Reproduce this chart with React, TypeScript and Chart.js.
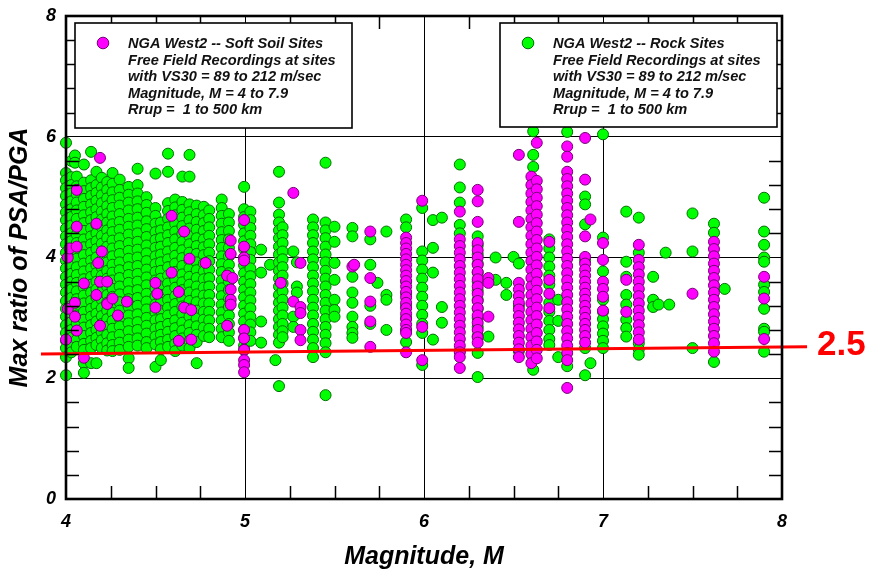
import React, { useEffect, useRef } from "react";
import { Chart, registerables } from "chart.js";

Chart.register(...registerables);

const FONT = '"Liberation Sans", Arial, Helvetica, sans-serif';

const X_MIN = 4;
const X_MAX = 8;
const Y_MIN = 0;
const Y_MAX = 8;
const X_STEP = 1;
const Y_STEP = 2;
const X_MINOR = 0.25;
const Y_MINOR = 0.4;

// Rock sites (green): [magnitude, PSA/PGA ratios]
const rockColumns: [number, number[]][] = [
  [4.0, [5.9, 5.4, 5.28, 5.15, 5.02, 4.88, 4.75, 4.62, 4.48, 4.35, 4.22, 4.08, 3.95, 3.82, 3.68, 3.55, 3.42, 3.28, 3.15, 3.02, 2.88, 2.75, 2.62, 2.5, 2.35, 2.05]],
  [4.03, [5.6, 5.33, 5.2, 5.06, 4.93, 4.8, 4.67, 4.53, 4.4, 4.27, 4.13, 4.0, 3.87, 3.73, 3.6, 3.47, 3.33, 3.2, 3.07, 2.93, 2.8, 2.67, 2.54, 2.43]],
  [4.05, [5.69, 5.57]],
  [4.06, [5.34, 5.18, 5.05, 4.91, 4.78, 4.64, 4.51, 4.38, 4.24, 4.11, 3.98, 3.84, 3.71, 3.58, 3.44, 3.31, 3.18, 3.04, 2.91, 2.78, 2.64, 2.52]],
  [4.1, [5.54, 5.24, 5.1, 4.97, 4.84, 4.7, 4.57, 4.44, 4.3, 4.17, 4.04, 3.9, 3.77, 3.64, 3.5, 3.37, 3.24, 3.1, 2.97, 2.84, 2.7, 2.57, 2.47, 2.25, 2.09]],
  [4.14, [5.75, 5.28, 5.15, 5.02, 4.88, 4.75, 4.62, 4.48, 4.35, 4.22, 4.08, 3.95, 3.82, 3.68, 3.55, 3.42, 3.28, 3.15, 3.02, 2.88, 2.75, 2.62, 2.5, 2.25]],
  [4.17, [5.42, 5.2, 5.07, 4.94, 4.8, 4.67, 4.54, 4.4, 4.27, 4.14, 4.0, 3.87, 3.74, 3.6, 3.47, 3.34, 3.2, 3.07, 2.94, 2.8, 2.67, 2.55, 2.25]],
  [4.2, [5.32, 5.16, 5.03, 4.9, 4.76, 4.63, 4.5, 4.36, 4.23, 4.1, 3.96, 3.83, 3.7, 3.56, 3.43, 3.3, 3.16, 3.03, 2.9, 2.76, 2.63, 2.5]],
  [4.23, [5.25, 5.12, 4.98, 4.85, 4.72, 4.58, 4.45, 4.32, 4.18, 4.05, 3.92, 3.78, 3.65, 3.52, 3.38, 3.25, 3.12, 2.98, 2.85, 2.72, 2.58, 2.46]],
  [4.26, [5.4, 5.22, 5.08, 4.95, 4.82, 4.68, 4.55, 4.42, 4.28, 4.15, 4.02, 3.88, 3.75, 3.62, 3.48, 3.35, 3.22, 3.08, 2.95, 2.82, 2.68, 2.55, 2.45]],
  [4.3, [5.29, 5.12, 4.99, 4.86, 4.72, 4.59, 4.46, 4.32, 4.19, 4.06, 3.92, 3.79, 3.66, 3.52, 3.39, 3.26, 3.12, 2.99, 2.86, 2.72, 2.59, 2.47]],
  [4.35, [5.17, 5.04, 4.91, 4.78, 4.64, 4.51, 4.38, 4.24, 4.11, 3.98, 3.84, 3.71, 3.58, 3.44, 3.31, 3.18, 3.04, 2.91, 2.78, 2.64, 2.52, 2.33, 2.17]],
  [4.4, [5.47, 5.2, 5.06, 4.93, 4.8, 4.66, 4.53, 4.4, 4.26, 4.13, 4.0, 3.86, 3.73, 3.6, 3.46, 3.33, 3.2, 3.06, 2.93, 2.8, 2.66, 2.54]],
  [4.45, [5.0, 4.87, 4.74, 4.6, 4.47, 4.34, 4.2, 4.07, 3.94, 3.8, 3.67, 3.54, 3.4, 3.27, 3.14, 3.0, 2.87, 2.74, 2.6, 2.5]],
  [4.5, [5.39, 4.82, 4.69, 4.56, 4.42, 4.29, 4.16, 4.02, 3.89, 3.76, 3.62, 3.49, 3.36, 3.22, 3.09, 2.96, 2.82, 2.69, 2.56, 2.19]],
  [4.53, [4.58, 4.45, 4.32, 4.18, 4.05, 3.92, 3.78, 3.65, 3.52, 3.38, 3.25, 3.12, 2.98, 2.85, 2.72, 2.6, 2.48, 2.3]],
  [4.57, [5.72, 5.42, 4.9, 4.77, 4.64, 4.5, 4.37, 4.24, 4.1, 3.97, 3.84, 3.7, 3.57, 3.44, 3.3, 3.17, 3.04, 2.9, 2.77, 2.64, 2.52]],
  [4.61, [4.96, 4.83, 4.7, 4.56, 4.43, 4.3, 4.16, 4.03, 3.9, 3.76, 3.63, 3.5, 3.36, 3.23, 3.1, 2.96, 2.83, 2.7, 2.57, 2.45]],
  [4.65, [5.34, 4.92, 4.79, 4.66, 4.52, 4.39, 4.26, 4.12, 3.99, 3.86, 3.72, 3.59, 3.46, 3.32, 3.19, 3.06, 2.92, 2.79, 2.66, 2.54]],
  [4.69, [5.7, 5.34, 4.88, 4.75, 4.62, 4.48, 4.35, 4.22, 4.08, 3.95, 3.82, 3.68, 3.55, 3.42, 3.28, 3.15, 3.02, 2.88, 2.75, 2.62, 2.5]],
  [4.73, [4.86, 4.72, 4.59, 4.46, 4.32, 4.19, 4.06, 3.92, 3.79, 3.66, 3.52, 3.39, 3.26, 3.12, 2.99, 2.86, 2.72, 2.6, 2.25]],
  [4.77, [4.84, 4.7, 4.57, 4.44, 4.3, 4.17, 4.04, 3.9, 3.77, 3.64, 3.5, 3.37, 3.24, 3.1, 2.97, 2.84, 2.7]],
  [4.8, [4.78, 4.64, 4.5, 4.36, 4.22, 4.08, 3.94, 3.8, 3.66, 3.52, 3.38, 3.24, 3.1, 2.96, 2.82, 2.68]],
  [4.87, [4.96, 4.82, 4.69, 4.56, 4.42, 4.29, 4.16, 4.02, 3.89, 3.76, 3.62, 3.49, 3.36, 3.22, 3.09, 2.96, 2.82, 2.68]],
  [4.91, [4.72, 4.58, 4.44, 4.3, 4.16, 4.02, 3.88, 3.74, 3.6, 3.46, 3.32, 3.18, 3.04, 2.9, 2.76, 2.62]],
  [4.995, [5.17, 4.8, 4.67, 4.54, 4.4, 4.27, 4.14, 4.0, 3.87, 3.74, 3.6, 3.47, 3.34, 3.2, 3.07, 2.94, 2.8, 2.67, 2.54, 2.47]],
  [5.03, [4.76, 4.62, 4.49, 4.36, 4.22, 4.09, 3.96, 3.82, 3.69, 3.56, 3.42, 3.29, 3.16, 3.02, 2.89, 2.76, 2.62]],
  [5.09, [4.13, 3.75, 2.94, 2.59]],
  [5.14, [3.88]],
  [5.17, [2.3]],
  [5.19, [5.42, 4.91, 4.71, 4.58, 4.45, 4.32, 4.18, 4.05, 3.92, 3.78, 3.65, 3.52, 3.38, 3.25, 3.12, 2.98, 2.85, 2.72, 2.59, 1.87]],
  [5.21, [4.5, 4.37, 4.24, 4.1, 3.97, 3.84, 3.7, 3.57, 3.44, 3.3, 3.17, 3.04, 2.9, 2.78, 2.68]],
  [5.27, [4.1, 3.02, 2.85]],
  [5.29, [3.92, 3.52, 3.42]],
  [5.38, [4.63, 4.5, 4.37, 4.24, 4.1, 3.97, 3.84, 3.7, 3.57, 3.44, 3.3, 3.17, 3.04, 2.9, 2.77, 2.64, 2.5, 2.35]],
  [5.45, [5.57, 4.58, 4.45, 4.32, 4.18, 4.05, 3.92, 3.78, 3.65, 3.52, 3.38, 3.25, 3.12, 2.98, 2.85, 2.72, 2.58, 2.43, 1.72]],
  [5.5, [4.51, 4.26, 3.91, 3.63, 3.3, 3.13, 3.02]],
  [5.6, [4.49, 4.35, 3.68, 3.42, 3.25, 3.02, 2.85, 2.75, 2.67]],
  [5.7, [4.3, 3.88, 3.2, 2.9]],
  [5.74, [3.58]],
  [5.79, [4.43, 3.38, 3.3, 2.8]],
  [5.9, [4.63, 4.5, 3.6, 3.4, 3.2, 3.0, 2.8, 2.6]],
  [5.99, [4.82, 4.1, 3.95, 3.8, 3.65, 3.5, 3.35, 3.2, 3.05, 2.9, 2.75, 2.22]],
  [6.05, [4.62, 4.16, 3.75, 2.64]],
  [6.1, [4.66, 3.18, 2.92]],
  [6.2, [5.54, 5.16, 4.91, 4.54, 4.4, 2.45]],
  [6.3, [4.35, 4.2, 4.05, 3.9, 3.75, 3.6, 3.45, 3.3, 3.15, 3.0, 2.85, 2.7, 2.42, 2.02]],
  [6.36, [2.69]],
  [6.4, [4.0, 3.63]],
  [6.46, [3.58, 3.38]],
  [6.5, [4.01]],
  [6.53, [3.9, 3.2, 2.45]],
  [6.61, [6.09, 5.7, 5.5, 4.5, 3.5, 2.35, 2.14]],
  [6.7, [4.3, 4.15, 4.0, 3.85, 3.7, 3.55, 3.25, 3.1, 2.95, 2.8, 2.65, 2.55]],
  [6.75, [3.3, 2.95, 2.35]],
  [6.8, [6.08, 2.2]],
  [6.9, [5.01, 4.88, 4.55, 3.95, 2.5, 2.05]],
  [6.93, [2.25]],
  [7.0, [6.04, 4.33, 3.77, 3.3, 3.1, 2.98, 2.86, 2.74, 2.62, 2.5]],
  [7.13, [4.76, 3.93, 3.68, 3.38, 3.22, 2.97, 2.83, 2.69]],
  [7.2, [4.66, 4.08, 2.58, 2.48, 2.39]],
  [7.28, [3.68, 3.3, 3.18]],
  [7.31, [3.22]],
  [7.35, [4.08]],
  [7.37, [3.22]],
  [7.5, [4.73, 4.1, 2.5]],
  [7.62, [4.56, 4.41, 2.27]],
  [7.68, [3.48]],
  [7.9, [4.99, 4.43, 4.21, 4.0, 3.93, 3.55, 3.43, 3.15, 2.82, 2.77, 2.44]],
];

// Soft soil sites (magenta): [magnitude, PSA/PGA ratios]
const softColumns: [number, number[]][] = [
  [4.0, [2.64]],
  [4.01, [4.0, 3.15]],
  [4.02, [4.15]],
  [4.05, [3.25, 3.02]],
  [4.06, [5.12, 4.51, 4.18, 2.79]],
  [4.1, [3.57, 2.34]],
  [4.17, [4.56, 3.38]],
  [4.18, [3.91]],
  [4.19, [5.65, 3.6, 2.87]],
  [4.2, [4.1]],
  [4.23, [3.6, 3.23]],
  [4.26, [3.32]],
  [4.29, [3.04]],
  [4.34, [3.27]],
  [4.5, [3.58, 3.17]],
  [4.51, [3.4]],
  [4.59, [4.69, 3.75]],
  [4.63, [3.43, 2.62]],
  [4.66, [4.43, 3.17]],
  [4.69, [3.98]],
  [4.7, [3.13, 2.64]],
  [4.78, [3.91]],
  [4.9, [3.7, 2.87]],
  [4.92, [4.28, 4.06, 3.47, 3.3, 3.22]],
  [4.93, [3.66]],
  [4.995, [4.62, 4.18, 4.0, 3.95, 2.8, 2.66, 2.47, 2.3, 2.22, 2.1]],
  [5.2, [3.58]],
  [5.27, [5.07, 3.27]],
  [5.31, [3.91, 3.18, 3.08, 2.8, 2.63]],
  [5.6, [3.85]],
  [5.61, [3.88]],
  [5.7, [4.43, 3.66, 3.27, 2.94, 2.52]],
  [5.9, [4.33, 4.24, 4.15, 4.06, 3.97, 3.88, 3.79, 3.7, 3.61, 3.52, 3.43, 3.34, 3.25, 3.16, 3.07, 2.98, 2.89, 2.8, 2.75, 2.43]],
  [5.99, [4.94, 2.85, 2.3]],
  [6.2, [4.76, 4.3, 4.19, 4.08, 3.97, 3.86, 3.75, 3.64, 3.53, 3.42, 3.31, 3.2, 3.09, 2.98, 2.87, 2.76, 2.65, 2.54, 2.43, 2.35, 2.17]],
  [6.3, [5.12, 4.93, 4.59, 4.24, 4.12, 4.0, 3.88, 3.76, 3.64, 3.52, 3.4, 3.28, 3.16, 3.04, 2.92, 2.8, 2.68, 2.59]],
  [6.36, [3.66, 3.58, 3.02]],
  [6.53, [5.7, 4.59, 3.58, 3.47, 3.36, 3.25, 3.14, 3.03, 2.92, 2.81, 2.7, 2.59, 2.48, 2.35]],
  [6.6, [5.34, 5.2, 5.06, 4.92, 4.78, 4.64, 4.5, 4.36, 4.22, 4.08, 3.94, 3.8, 3.66, 3.52, 3.38, 3.24, 3.1, 2.96, 2.82, 2.68, 2.54, 2.4, 2.25]],
  [6.63, [5.9, 5.27, 5.13, 4.99, 4.85, 4.71, 4.57, 4.43, 4.29, 4.15, 4.01, 3.87, 3.73, 3.59, 3.45, 3.31, 3.17, 3.03, 2.89, 2.75, 2.61, 2.47, 2.33]],
  [6.7, [4.26, 3.63, 3.4, 3.16]],
  [6.8, [5.84, 5.67, 5.42, 5.3, 5.18, 5.06, 4.94, 4.82, 4.7, 4.58, 4.46, 4.34, 4.22, 4.1, 3.98, 3.86, 3.74, 3.62, 3.5, 3.38, 3.26, 3.14, 3.02, 2.9, 2.78, 2.66, 2.54, 2.42, 2.3, 1.84]],
  [6.9, [5.98, 5.29, 4.35, 4.01, 3.9, 3.8, 3.7, 3.6, 3.5, 3.4, 3.3, 3.2, 3.1, 3.0, 2.9, 2.8, 2.7, 2.59]],
  [6.93, [4.63]],
  [7.0, [4.24, 3.96, 3.6, 3.48, 3.35, 3.12]],
  [7.13, [3.63, 3.1]],
  [7.2, [4.21, 3.96, 3.84, 3.72, 3.6, 3.48, 3.36, 3.24, 3.12, 3.0, 2.88, 2.76, 2.64]],
  [7.5, [3.4]],
  [7.62, [4.26, 4.14, 4.02, 3.9, 3.78, 3.66, 3.54, 3.42, 3.3, 3.18, 3.06, 2.94, 2.82, 2.7, 2.58, 2.44]],
  [7.9, [3.68, 3.32, 2.65]],
];

// Red reference line (2.5 ratio)
const limitLineX = [3.86, 8.14];
const limitLineY = [2.4, 2.52];
const limitLabel = "2.5";

const softLegendLines = [
  "NGA West2 -- Soft Soil Sites",
  "Free Field Recordings at sites",
  "with VS30 = 89 to 212 m/sec",
  "Magnitude, M = 4 to 7.9",
  "Rrup =  1 to 500 km",
];
const rockLegendLines = [
  "NGA West2 -- Rock Sites",
  "Free Field Recordings at sites",
  "with VS30 = 89 to 212 m/sec",
  "Magnitude, M = 4 to 7.9",
  "Rrup =  1 to 500 km",
];

const xTitle = "Magnitude, M";
const yTitle = "Max ratio of PSA/PGA";

const GREEN = "#00ff00";
const GREEN_EDGE = "#007000";
const MAGENTA = "#ff00ff";
const MAGENTA_EDGE = "#760076";

function toPoints(cols: [number, number[]][]) {
  const out: { x: number; y: number }[] = [];
  cols.forEach(([x, ys]) => ys.forEach((y) => out.push({ x, y })));
  return out;
}

function drawLegend(
  ctx: CanvasRenderingContext2D,
  left: number,
  top: number,
  w: number,
  h: number,
  fill: string,
  edge: string,
  lines: string[]
) {
  ctx.save();
  ctx.fillStyle = "#ffffff";
  ctx.fillRect(left, top, w, h);
  ctx.strokeStyle = "#000";
  ctx.lineWidth = 1.6;
  ctx.strokeRect(left, top, w, h);
  ctx.beginPath();
  ctx.arc(left + 28, top + 20, 5.8, 0, Math.PI * 2);
  ctx.fillStyle = fill;
  ctx.fill();
  ctx.lineWidth = 1;
  ctx.strokeStyle = edge;
  ctx.stroke();
  ctx.fillStyle = "#111";
  ctx.font = `italic bold 14.6px ${FONT}`;
  ctx.textAlign = "left";
  ctx.textBaseline = "alphabetic";
  lines.forEach((t, i) => ctx.fillText(t, left + 53, top + 25 + i * 16.6));
  ctx.restore();
}

const decorPlugin = {
  id: "decor",
  afterDraw(chart: any) {
    const { ctx, chartArea: a, scales } = chart;
    const xs = scales.x;
    const ys = scales.y;
    ctx.save();
    // minor ticks
    ctx.strokeStyle = "#000";
    ctx.lineWidth = 1.5;
    ctx.beginPath();
    const nx = Math.round((X_MAX - X_MIN) / X_MINOR);
    for (let i = 1; i < nx; i++) {
      const v = X_MIN + i * X_MINOR;
      if (Math.abs(v / X_STEP - Math.round(v / X_STEP)) < 1e-6) continue;
      const px = Math.round(xs.getPixelForValue(v)) + 0.5;
      ctx.moveTo(px, a.bottom);
      ctx.lineTo(px, a.bottom - 13);
      ctx.moveTo(px, a.top);
      ctx.lineTo(px, a.top + 13);
    }
    const ny = Math.round((Y_MAX - Y_MIN) / Y_MINOR);
    for (let i = 1; i < ny; i++) {
      const v = Y_MIN + i * Y_MINOR;
      if (Math.abs(v / Y_STEP - Math.round(v / Y_STEP)) < 1e-6) continue;
      const py = Math.round(ys.getPixelForValue(v)) + 0.5;
      ctx.moveTo(a.left, py);
      ctx.lineTo(a.left + 13, py);
      ctx.moveTo(a.right, py);
      ctx.lineTo(a.right - 13, py);
    }
    ctx.stroke();
    // frame
    ctx.lineWidth = 2.6;
    ctx.strokeRect(a.left, a.top, a.right - a.left, a.bottom - a.top);

    // legends
    drawLegend(ctx, a.left + 9, a.top + 7, 277, 105, MAGENTA, MAGENTA_EDGE, softLegendLines);
    drawLegend(ctx, a.left + 434, a.top + 7, 277, 104, GREEN, GREEN_EDGE, rockLegendLines);

    // limit label
    const lx = xs.getPixelForValue(limitLineX[1]) + 10;
    const ly = ys.getPixelForValue(limitLineY[1]) - 2;
    ctx.fillStyle = "#ff0000";
    ctx.font = `bold 35px ${FONT}`;
    ctx.textAlign = "left";
    ctx.textBaseline = "middle";
    ctx.fillText(limitLabel, lx, ly);

    // axis titles
    ctx.fillStyle = "#000";
    ctx.font = `italic bold 25px ${FONT}`;
    ctx.textAlign = "center";
    ctx.textBaseline = "middle";
    ctx.fillText(xTitle, (a.left + a.right) / 2, 557);
    ctx.translate(20, (a.top + a.bottom) / 2);
    ctx.rotate(-Math.PI / 2);
    ctx.fillText(yTitle, 0, 0);
    ctx.restore();
  },
};

export default function App() {
  const ref = useRef<HTMLCanvasElement | null>(null);

  useEffect(() => {
    document.body.style.margin = "0";
    const canvas = ref.current;
    if (!canvas) return;
    const tickFont = { family: FONT, size: 18, style: "italic" as const, weight: "bold" as const };
    const chart = new Chart(canvas, {
      type: "scatter",
      data: {
        datasets: [
          {
            type: "line" as any,
            label: "limit",
            data: limitLineX.map((x, i) => ({ x, y: limitLineY[i] })),
            borderColor: "#ff0000",
            borderWidth: 3,
            pointRadius: 0,
            showLine: true,
            fill: false,
            clip: false as any,
            order: 0,
          },
          {
            label: "Soft Soil Sites",
            data: toPoints(softColumns),
            backgroundColor: MAGENTA,
            borderColor: MAGENTA_EDGE,
            borderWidth: 1,
            pointRadius: 5.5,
            clip: false as any,
            order: 1,
          },
          {
            label: "Rock Sites",
            data: toPoints(rockColumns),
            backgroundColor: GREEN,
            borderColor: GREEN_EDGE,
            borderWidth: 1,
            pointRadius: 5.5,
            clip: false as any,
            order: 2,
          },
        ],
      },
      options: {
        responsive: false,
        animation: false,
        devicePixelRatio: 1,
        layout: { padding: { left: 0, top: 16, right: 92, bottom: 0 } },
        plugins: { legend: { display: false }, tooltip: { enabled: false } },
        scales: {
          x: {
            type: "linear",
            min: X_MIN,
            max: X_MAX,
            ticks: { stepSize: X_STEP, font: tickFont, color: "#000", padding: 12 },
            grid: { color: "#000", lineWidth: 1, drawTicks: false },
            border: { display: false },
            afterFit: (s: any) => {
              s.height = 77;
              s.paddingLeft = 0;
              s.paddingRight = 0;
            },
          },
          y: {
            type: "linear",
            min: Y_MIN,
            max: Y_MAX,
            ticks: { stepSize: Y_STEP, font: tickFont, color: "#000", padding: 10 },
            grid: { color: "#000", lineWidth: 1, drawTicks: false },
            border: { display: false },
            afterFit: (s: any) => {
              s.width = 66;
              s.paddingTop = 0;
              s.paddingBottom = 0;
            },
          },
        },
      },
      plugins: [decorPlugin],
    });
    return () => chart.destroy();
  }, []);

  return (
    <div style={{ width: 874, height: 576, background: "#fff" }}>
      <canvas ref={ref} width={874} height={576} style={{ display: "block" }} />
    </div>
  );
}
